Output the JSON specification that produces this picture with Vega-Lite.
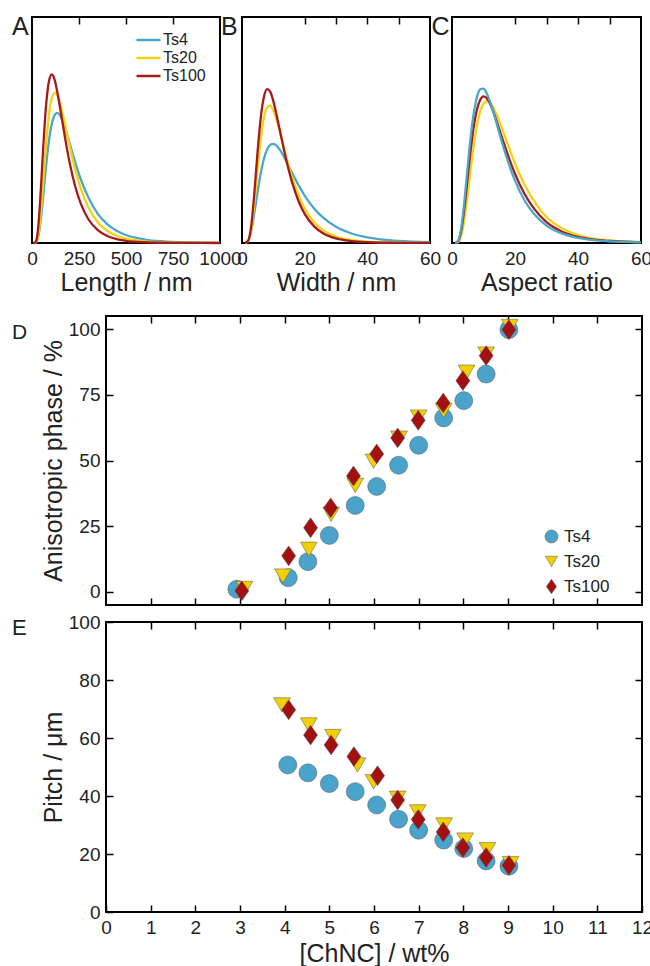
{
  "$schema": "https://vega.github.io/schema/vega-lite/v6.json",
  "padding": {"left": 11, "top": 14, "right": 0, "bottom": 0},
  "background": "white",
  "config": {
    "font": "Liberation Sans",
    "view": {"stroke": "black", "strokeWidth": 2},
    "axis": {"domain": false, "grid": false, "tickColor": "black", "tickWidth": 1.5, "tickSize": -7, "labelFontSize": 19, "labelColor": "#222", "titleFontSize": 25, "titleFontWeight": "normal", "titleColor": "#222", "labelPadding": 13, "titlePadding": 2, "labelFlush": false, "labelOverlap": false},
    "title": {"fontSize": 25, "fontWeight": "normal", "anchor": "start", "frame": "group", "offset": 0, "color": "#222"},
    "legend": {"labelFontSize": 16, "labelColor": "#222", "padding": 0, "title": null}
  },
  "datasets": {
    "length": [
      {"s":"Ts4","x":10,"y":0},{"s":"Ts4","x":20,"y":0.0019},{"s":"Ts4","x":30,"y":0.0168},{"s":"Ts4","x":40,"y":0.0577},{"s":"Ts4","x":50,"y":0.125},{"s":"Ts4","x":60,"y":0.21},{"s":"Ts4","x":70,"y":0.299},{"s":"Ts4","x":80,"y":0.381},{"s":"Ts4","x":90,"y":0.452},{"s":"Ts4","x":105,"y":0.527},{"s":"Ts4","x":120,"y":0.566},{"s":"Ts4","x":133,"y":0.576},{"s":"Ts4","x":150,"y":0.563},{"s":"Ts4","x":170,"y":0.523},{"s":"Ts4","x":200,"y":0.442},{"s":"Ts4","x":230,"y":0.357},{"s":"Ts4","x":260,"y":0.281},{"s":"Ts4","x":300,"y":0.201},{"s":"Ts4","x":350,"y":0.129},{"s":"Ts4","x":400,"y":0.0833},{"s":"Ts4","x":450,"y":0.0539},{"s":"Ts4","x":500,"y":0.0352},{"s":"Ts4","x":600,"y":0.0154},{"s":"Ts4","x":700,"y":0.0071},{"s":"Ts4","x":800,"y":0.0034},{"s":"Ts4","x":900,"y":0.0017},{"s":"Ts4","x":1000,"y":0.0009},
      {"s":"Ts20","x":10,"y":0},{"s":"Ts20","x":20,"y":0.002},{"s":"Ts20","x":30,"y":0.02},{"s":"Ts20","x":40,"y":0.0727},{"s":"Ts20","x":50,"y":0.161},{"s":"Ts20","x":60,"y":0.271},{"s":"Ts20","x":70,"y":0.384},{"s":"Ts20","x":80,"y":0.484},{"s":"Ts20","x":90,"y":0.564},{"s":"Ts20","x":105,"y":0.639},{"s":"Ts20","x":122,"y":0.665},{"s":"Ts20","x":140,"y":0.643},{"s":"Ts20","x":160,"y":0.583},{"s":"Ts20","x":180,"y":0.508},{"s":"Ts20","x":200,"y":0.43},{"s":"Ts20","x":230,"y":0.325},{"s":"Ts20","x":260,"y":0.24},{"s":"Ts20","x":300,"y":0.157},{"s":"Ts20","x":350,"y":0.0921},{"s":"Ts20","x":400,"y":0.0541},{"s":"Ts20","x":450,"y":0.0321},{"s":"Ts20","x":500,"y":0.0193},{"s":"Ts20","x":600,"y":0.0073},{"s":"Ts20","x":700,"y":0.0029},{"s":"Ts20","x":800,"y":0.0012},{"s":"Ts20","x":1000,"y":0.0002},
      {"s":"Ts100","x":10,"y":0},{"s":"Ts100","x":20,"y":0.0056},{"s":"Ts100","x":30,"y":0.0457},{"s":"Ts100","x":40,"y":0.142},{"s":"Ts100","x":50,"y":0.28},{"s":"Ts100","x":60,"y":0.427},{"s":"Ts100","x":70,"y":0.557},{"s":"Ts100","x":80,"y":0.654},{"s":"Ts100","x":90,"y":0.715},{"s":"Ts100","x":105,"y":0.746},{"s":"Ts100","x":120,"y":0.723},{"s":"Ts100","x":140,"y":0.644},{"s":"Ts100","x":160,"y":0.544},{"s":"Ts100","x":180,"y":0.445},{"s":"Ts100","x":200,"y":0.356},{"s":"Ts100","x":230,"y":0.25},{"s":"Ts100","x":260,"y":0.173},{"s":"Ts100","x":300,"y":0.105},{"s":"Ts100","x":350,"y":0.0565},{"s":"Ts100","x":400,"y":0.0309},{"s":"Ts100","x":450,"y":0.0172},{"s":"Ts100","x":500,"y":0.0098},{"s":"Ts100","x":600,"y":0.0033},{"s":"Ts100","x":700,"y":0.0012},{"s":"Ts100","x":800,"y":0.0005},{"s":"Ts100","x":1000,"y":0}
    ],
    "width": [
      {"s":"Ts4","x":1,"y":0.0002},{"s":"Ts4","x":2,"y":0.0114},{"s":"Ts4","x":3,"y":0.0578},{"s":"Ts4","x":4,"y":0.137},{"s":"Ts4","x":5,"y":0.228},{"s":"Ts4","x":6,"y":0.31},{"s":"Ts4","x":7,"y":0.373},{"s":"Ts4","x":8,"y":0.414},{"s":"Ts4","x":9,"y":0.434},{"s":"Ts4","x":10,"y":0.439},{"s":"Ts4","x":11,"y":0.431},{"s":"Ts4","x":12,"y":0.414},{"s":"Ts4","x":14,"y":0.365},{"s":"Ts4","x":16,"y":0.31},{"s":"Ts4","x":18,"y":0.257},{"s":"Ts4","x":20,"y":0.21},{"s":"Ts4","x":23,"y":0.153},{"s":"Ts4","x":26,"y":0.111},{"s":"Ts4","x":30,"y":0.0717},{"s":"Ts4","x":35,"y":0.0421},{"s":"Ts4","x":40,"y":0.0251},{"s":"Ts4","x":45,"y":0.0152},{"s":"Ts4","x":50,"y":0.0094},{"s":"Ts4","x":60,"y":0.0038},
      {"s":"Ts20","x":1,"y":0.0001},{"s":"Ts20","x":2,"y":0.0081},{"s":"Ts20","x":3,"y":0.0631},{"s":"Ts20","x":4,"y":0.182},{"s":"Ts20","x":5,"y":0.33},{"s":"Ts20","x":6,"y":0.462},{"s":"Ts20","x":7,"y":0.554},{"s":"Ts20","x":8,"y":0.6},{"s":"Ts20","x":9,"y":0.608},{"s":"Ts20","x":10,"y":0.586},{"s":"Ts20","x":11,"y":0.546},{"s":"Ts20","x":12,"y":0.495},{"s":"Ts20","x":14,"y":0.387},{"s":"Ts20","x":16,"y":0.29},{"s":"Ts20","x":18,"y":0.212},{"s":"Ts20","x":20,"y":0.152},{"s":"Ts20","x":23,"y":0.092},{"s":"Ts20","x":26,"y":0.0554},{"s":"Ts20","x":30,"y":0.0284},{"s":"Ts20","x":35,"y":0.0126},{"s":"Ts20","x":40,"y":0.0058},{"s":"Ts20","x":45,"y":0.0027},{"s":"Ts20","x":50,"y":0.0013},{"s":"Ts20","x":60,"y":0.0004},
      {"s":"Ts100","x":1,"y":0.0001},{"s":"Ts100","x":2,"y":0.0106},{"s":"Ts100","x":3,"y":0.0823},{"s":"Ts100","x":4,"y":0.232},{"s":"Ts100","x":5,"y":0.409},{"s":"Ts100","x":6,"y":0.556},{"s":"Ts100","x":7,"y":0.647},{"s":"Ts100","x":8,"y":0.681},{"s":"Ts100","x":9,"y":0.67},{"s":"Ts100","x":10,"y":0.628},{"s":"Ts100","x":11,"y":0.569},{"s":"Ts100","x":12,"y":0.504},{"s":"Ts100","x":14,"y":0.375},{"s":"Ts100","x":16,"y":0.268},{"s":"Ts100","x":18,"y":0.187},{"s":"Ts100","x":20,"y":0.129},{"s":"Ts100","x":23,"y":0.0737},{"s":"Ts100","x":26,"y":0.0421},{"s":"Ts100","x":30,"y":0.0202},{"s":"Ts100","x":35,"y":0.0083},{"s":"Ts100","x":40,"y":0.0036},{"s":"Ts100","x":45,"y":0.0016},{"s":"Ts100","x":50,"y":0.0007},{"s":"Ts100","x":60,"y":0.0002}
    ],
    "aspect": [
      {"s":"Ts20","x":1,"y":0},{"s":"Ts20","x":2,"y":0.0047},{"s":"Ts20","x":3,"y":0.0362},{"s":"Ts20","x":4,"y":0.111},{"s":"Ts20","x":5,"y":0.218},{"s":"Ts20","x":6,"y":0.334},{"s":"Ts20","x":7,"y":0.441},{"s":"Ts20","x":8,"y":0.525},{"s":"Ts20","x":9,"y":0.584},{"s":"Ts20","x":10,"y":0.617},{"s":"Ts20","x":11,"y":0.628},{"s":"Ts20","x":12,"y":0.622},{"s":"Ts20","x":13,"y":0.602},{"s":"Ts20","x":14,"y":0.574},{"s":"Ts20","x":16,"y":0.503},{"s":"Ts20","x":18,"y":0.425},{"s":"Ts20","x":20,"y":0.352},{"s":"Ts20","x":23,"y":0.259},{"s":"Ts20","x":26,"y":0.188},{"s":"Ts20","x":30,"y":0.115},{"s":"Ts20","x":35,"y":0.065},{"s":"Ts20","x":40,"y":0.035},{"s":"Ts20","x":45,"y":0.019},{"s":"Ts20","x":50,"y":0.011},{"s":"Ts20","x":60,"y":0.004},
      {"s":"Ts100","x":1,"y":0.0001},{"s":"Ts100","x":2,"y":0.0094},{"s":"Ts100","x":3,"y":0.0603},{"s":"Ts100","x":4,"y":0.163},{"s":"Ts100","x":5,"y":0.292},{"s":"Ts100","x":6,"y":0.419},{"s":"Ts100","x":7,"y":0.523},{"s":"Ts100","x":8,"y":0.595},{"s":"Ts100","x":9,"y":0.635},{"s":"Ts100","x":10,"y":0.649},{"s":"Ts100","x":11,"y":0.641},{"s":"Ts100","x":12,"y":0.619},{"s":"Ts100","x":13,"y":0.586},{"s":"Ts100","x":14,"y":0.546},{"s":"Ts100","x":16,"y":0.461},{"s":"Ts100","x":18,"y":0.379},{"s":"Ts100","x":20,"y":0.306},{"s":"Ts100","x":23,"y":0.218},{"s":"Ts100","x":26,"y":0.153},{"s":"Ts100","x":30,"y":0.092},{"s":"Ts100","x":35,"y":0.05},{"s":"Ts100","x":40,"y":0.027},{"s":"Ts100","x":45,"y":0.015},{"s":"Ts100","x":50,"y":0.009},{"s":"Ts100","x":60,"y":0.003},
      {"s":"Ts4","x":1,"y":0.0001},{"s":"Ts4","x":2,"y":0.0117},{"s":"Ts4","x":3,"y":0.0733},{"s":"Ts4","x":4,"y":0.194},{"s":"Ts4","x":5,"y":0.341},{"s":"Ts4","x":6,"y":0.478},{"s":"Ts4","x":7,"y":0.583},{"s":"Ts4","x":8,"y":0.65},{"s":"Ts4","x":9,"y":0.681},{"s":"Ts4","x":10,"y":0.683},{"s":"Ts4","x":11,"y":0.663},{"s":"Ts4","x":12,"y":0.628},{"s":"Ts4","x":13,"y":0.585},{"s":"Ts4","x":14,"y":0.537},{"s":"Ts4","x":16,"y":0.439},{"s":"Ts4","x":18,"y":0.351},{"s":"Ts4","x":20,"y":0.276},{"s":"Ts4","x":23,"y":0.189},{"s":"Ts4","x":26,"y":0.129},{"s":"Ts4","x":30,"y":0.0771},{"s":"Ts4","x":35,"y":0.0412},{"s":"Ts4","x":40,"y":0.0224},{"s":"Ts4","x":45,"y":0.0125},{"s":"Ts4","x":50,"y":0.0071},{"s":"Ts4","x":60,"y":0.0025}
    ],
    "phase": [
      {"s":"Ts4","c":2.93,"v":1.0},{"s":"Ts4","c":4.08,"v":5.4},{"s":"Ts4","c":4.52,"v":11.5},{"s":"Ts4","c":5.0,"v":21.5},{"s":"Ts4","c":5.58,"v":32.9},{"s":"Ts4","c":6.06,"v":40.1},{"s":"Ts4","c":6.55,"v":48.2},{"s":"Ts4","c":7.0,"v":55.8},{"s":"Ts4","c":7.56,"v":66.2},{"s":"Ts4","c":8.01,"v":72.8},{"s":"Ts4","c":8.51,"v":82.9},{"s":"Ts4","c":9.02,"v":99.8},
      {"s":"Ts20","c":3.1,"v":1.3},{"s":"Ts20","c":3.96,"v":6.0},{"s":"Ts20","c":4.54,"v":16.2},{"s":"Ts20","c":5.04,"v":29.5},{"s":"Ts20","c":5.58,"v":40.5},{"s":"Ts20","c":5.99,"v":49.7},{"s":"Ts20","c":6.56,"v":58.5},{"s":"Ts20","c":7.0,"v":66.5},{"s":"Ts20","c":7.56,"v":69.0},{"s":"Ts20","c":8.07,"v":83.6},{"s":"Ts20","c":8.51,"v":90.5},{"s":"Ts20","c":9.04,"v":101.0},
      {"s":"Ts100","c":3.04,"v":0.4},{"s":"Ts100","c":4.09,"v":13.7},{"s":"Ts100","c":4.58,"v":24.4},{"s":"Ts100","c":5.03,"v":32.0},{"s":"Ts100","c":5.54,"v":44.1},{"s":"Ts100","c":6.06,"v":52.5},{"s":"Ts100","c":6.53,"v":58.6},{"s":"Ts100","c":6.99,"v":65.3},{"s":"Ts100","c":7.55,"v":71.9},{"s":"Ts100","c":7.99,"v":80.4},{"s":"Ts100","c":8.51,"v":89.9},{"s":"Ts100","c":9.02,"v":99.8}
    ],
    "pitch": [
      {"s":"Ts4","c":4.07,"v":50.7},{"s":"Ts4","c":4.52,"v":48.0},{"s":"Ts4","c":5.0,"v":44.3},{"s":"Ts4","c":5.58,"v":41.5},{"s":"Ts4","c":6.06,"v":36.9},{"s":"Ts4","c":6.55,"v":32.0},{"s":"Ts4","c":7.0,"v":28.2},{"s":"Ts4","c":7.56,"v":24.8},{"s":"Ts4","c":8.01,"v":21.9},{"s":"Ts4","c":8.51,"v":17.6},{"s":"Ts4","c":9.02,"v":15.8},
      {"s":"Ts20","c":3.94,"v":71.4},{"s":"Ts20","c":4.54,"v":64.5},{"s":"Ts20","c":5.08,"v":60.5},{"s":"Ts20","c":5.63,"v":50.7},{"s":"Ts20","c":5.99,"v":44.9},{"s":"Ts20","c":6.53,"v":39.2},{"s":"Ts20","c":6.98,"v":34.5},{"s":"Ts20","c":7.57,"v":30.0},{"s":"Ts20","c":8.04,"v":24.8},{"s":"Ts20","c":8.54,"v":21.5},{"s":"Ts20","c":9.06,"v":16.7},
      {"s":"Ts100","c":4.09,"v":69.7},{"s":"Ts100","c":4.58,"v":61.0},{"s":"Ts100","c":5.04,"v":57.6},{"s":"Ts100","c":5.55,"v":53.6},{"s":"Ts100","c":6.08,"v":47.0},{"s":"Ts100","c":6.53,"v":38.6},{"s":"Ts100","c":6.99,"v":31.9},{"s":"Ts100","c":7.55,"v":27.6},{"s":"Ts100","c":7.99,"v":22.2},{"s":"Ts100","c":8.51,"v":18.8},{"s":"Ts100","c":9.02,"v":16.1}
    ]
  },
  "spacing": 17,
  "resolve": {"scale": {"color": "independent", "shape": "independent"}, "legend": {"color": "independent", "shape": "independent"}},
  "vconcat": [
    {
      "hconcat": [
        {
          "width": 188, "height": 226,
          "title": {"text": "A", "dx": -20, "dy": 28},
          "data": {"name": "length"},
          "layer": [
            {
              "mark": {"type": "line", "strokeWidth": 2.3, "interpolate": "monotone"},
              "encoding": {
                "x": {"field": "x", "type": "quantitative", "scale": {"domain": [0, 1000], "nice": false}, "axis": {"orient": "bottom", "values": [0, 250, 500, 750, 1000], "format": "d", "title": "Length / nm", "tickOpacity": 0}},
                "y": {"field": "y", "type": "quantitative", "scale": {"domain": [0, 1], "nice": false}, "axis": null},
                "color": {"field": "s", "type": "nominal", "scale": {"domain": ["Ts4", "Ts20", "Ts100"], "range": ["#4ba7c9", "#f2d30f", "#a51b1b"]},
                  "legend": {"title": null, "orient": "top-right", "offset": 14, "symbolType": "stroke", "symbolSize": 576, "symbolStrokeWidth": 2.5, "clipHeight": 18, "rowPadding": 0, "labelOffset": 1, "labelFontSize": 16}}
              }
            },
            {
              "mark": {"type": "line", "opacity": 0},
              "encoding": {
                "x": {"field": "x", "type": "quantitative", "axis": {"orient": "top", "values": [250, 500, 750], "labels": false, "title": null}},
                "y": {"field": "y", "type": "quantitative", "axis": null},
                "detail": {"field": "s"}
              }
            }
          ]
        },
        {
          "width": 188, "height": 226,
          "title": {"text": "B", "dx": -21, "dy": 28},
          "data": {"name": "width"},
          "layer": [
            {
              "mark": {"type": "line", "strokeWidth": 2.3, "interpolate": "monotone"},
              "encoding": {
                "x": {"field": "x", "type": "quantitative", "scale": {"domain": [0, 60], "nice": false}, "axis": {"orient": "bottom", "values": [0, 20, 40, 60], "title": "Width / nm", "tickOpacity": 0}},
                "y": {"field": "y", "type": "quantitative", "scale": {"domain": [0, 1], "nice": false}, "axis": null},
                "color": {"field": "s", "type": "nominal", "scale": {"domain": ["Ts4", "Ts20", "Ts100"], "range": ["#4ba7c9", "#f2d30f", "#a51b1b"]}, "legend": null}
              }
            },
            {
              "mark": {"type": "line", "opacity": 0},
              "encoding": {
                "x": {"field": "x", "type": "quantitative", "axis": {"orient": "top", "values": [20, 30, 40, 50], "labels": false, "title": null}},
                "y": {"field": "y", "type": "quantitative", "axis": null},
                "detail": {"field": "s"}
              }
            }
          ]
        },
        {
          "width": 189, "height": 226,
          "title": {"text": "C", "dx": -20.5, "dy": 28},
          "data": {"name": "aspect"},
          "layer": [
            {
              "mark": {"type": "line", "strokeWidth": 2.3, "interpolate": "monotone"},
              "encoding": {
                "x": {"field": "x", "type": "quantitative", "scale": {"domain": [0, 60], "nice": false}, "axis": {"orient": "bottom", "values": [0, 20, 40, 60], "title": "Aspect ratio", "tickOpacity": 0}},
                "y": {"field": "y", "type": "quantitative", "scale": {"domain": [0, 1], "nice": false}, "axis": null},
                "color": {"field": "s", "type": "nominal", "scale": {"domain": ["Ts4", "Ts20", "Ts100"], "range": ["#4ba7c9", "#f2d30f", "#a51b1b"]}, "legend": null}
              }
            },
            {
              "mark": {"type": "line", "opacity": 0},
              "encoding": {
                "x": {"field": "x", "type": "quantitative", "axis": {"orient": "top", "values": [20, 30, 40, 50], "labels": false, "title": null}},
                "y": {"field": "y", "type": "quantitative", "axis": null},
                "detail": {"field": "s"}
              }
            }
          ]
        }
      ],
      "spacing": 22,
      "bounds": "flush",
      "resolve": {"scale": {"color": "independent"}, "legend": {"color": "independent"}}
    },
    {
      "hconcat": [
        {
          "width": 64, "height": 1,
          "view": {"stroke": null},
          "data": {"values": [{"c": 0}]},
          "mark": {"type": "point", "opacity": 0},
          "encoding": {"x": {"field": "c", "type": "quantitative", "axis": null}}
        },
        {
          "vconcat": [
            {
              "width": 536, "height": 289,
              "title": {"text": "D", "dx": -94, "dy": 31.5, "fontSize": 21},
              "data": {"name": "phase"},
              "layer": [
                {
                  "mark": {"type": "point", "filled": true, "opacity": 1, "size": 324, "stroke": "#555555", "strokeWidth": 0.5},
                  "encoding": {
                    "x": {"field": "c", "type": "quantitative", "scale": {"domain": [0, 12], "nice": false}, "axis": {"orient": "bottom", "values": [1,2,3,4,5,6,7,8,9,10,11], "labels": false, "title": null}},
                    "y": {"field": "v", "type": "quantitative", "scale": {"domain": [-5, 105], "nice": false}, "axis": {"orient": "left", "values": [0, 25, 50, 75, 100], "title": "Anisotropic phase / %"}},
                    "color": {"field": "s", "type": "nominal", "scale": {"domain": ["Ts4", "Ts20", "Ts100"], "range": ["#4aa3cb", "#f0d000", "#a21010"]},
                      "legend": {"title": "\u00a0", "titleOrient": "right", "titlePadding": 23, "titleFontSize": 16, "orient": "bottom-right", "offset": 10, "symbolSize": 170, "rowPadding": 7, "labelFontSize": 17, "labelOffset": 4, "symbolStrokeColor": "#555555", "symbolStrokeWidth": 0.5}},
                    "shape": {"field": "s", "type": "nominal", "scale": {"domain": ["Ts4", "Ts20", "Ts100"], "range": ["circle", "M-0.93,-0.8L0.93,-0.8L0,0.8Z", "M0,-1.1L0.78,0L0,1.1L-0.78,0Z"]},
                      "legend": {"title": "\u00a0", "titleOrient": "right", "titlePadding": 23, "titleFontSize": 16, "orient": "bottom-right", "offset": 10, "symbolSize": 170, "rowPadding": 7, "labelFontSize": 17, "labelOffset": 4, "symbolStrokeColor": "#555555", "symbolStrokeWidth": 0.5}}
                  }
                },
                {
                  "mark": {"type": "point", "opacity": 0},
                  "encoding": {
                    "x": {"field": "c", "type": "quantitative", "axis": {"orient": "top", "values": [1,2,3,4,5,6,7,8,9,10,11], "labels": false, "title": null}},
                    "y": {"field": "v", "type": "quantitative", "axis": {"orient": "right", "values": [0, 25, 50, 75, 100], "labels": false, "title": null}}
                  }
                }
              ]
            },
            {
              "width": 536, "height": 290,
              "title": {"text": "E", "dx": -94, "dy": 31, "fontSize": 22},
              "data": {"name": "pitch"},
              "layer": [
                {
                  "mark": {"type": "point", "filled": true, "opacity": 1, "size": 324, "stroke": "#555555", "strokeWidth": 0.5},
                  "encoding": {
                    "x": {"field": "c", "type": "quantitative", "scale": {"domain": [0, 12], "nice": false}, "axis": {"orient": "bottom", "values": [0,1,2,3,4,5,6,7,8,9,10,11,12], "title": "[ChNC] / wt%", "titlePadding": 4}},
                    "y": {"field": "v", "type": "quantitative", "scale": {"domain": [0, 100], "nice": false}, "axis": {"orient": "left", "values": [0, 20, 40, 60, 80, 100], "title": "Pitch / μm"}},
                    "color": {"field": "s", "type": "nominal", "scale": {"domain": ["Ts4", "Ts20", "Ts100"], "range": ["#4aa3cb", "#f0d000", "#a21010"]}, "legend": null},
                    "shape": {"field": "s", "type": "nominal", "scale": {"domain": ["Ts4", "Ts20", "Ts100"], "range": ["circle", "M-0.93,-0.8L0.93,-0.8L0,0.8Z", "M0,-1.1L0.78,0L0,1.1L-0.78,0Z"]}, "legend": null}
                  }
                },
                {
                  "mark": {"type": "point", "opacity": 0},
                  "encoding": {
                    "x": {"field": "c", "type": "quantitative", "axis": {"orient": "top", "values": [1,2,3,4,5,6,7,8,9,10,11], "labels": false, "title": null}},
                    "y": {"field": "v", "type": "quantitative", "axis": {"orient": "right", "values": [20, 40, 60, 80], "labels": false, "title": null}}
                  }
                }
              ]
            }
          ],
          "spacing": 5,
          "resolve": {"scale": {"color": "independent", "shape": "independent"}, "legend": {"color": "independent", "shape": "independent"}}
        }
      ],
      "spacing": 10,
      "bounds": "flush",
      "resolve": {"scale": {"color": "independent", "shape": "independent"}, "legend": {"color": "independent", "shape": "independent"}}
    }
  ]
}
